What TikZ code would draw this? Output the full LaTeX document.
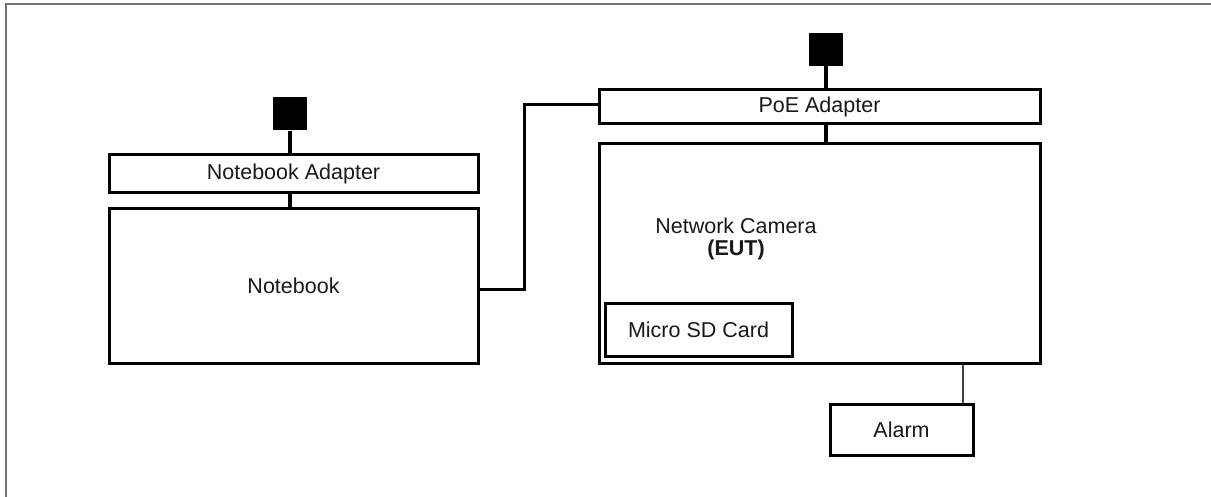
\documentclass[tikz,border=0pt]{standalone}
\usepackage{fontspec}
\setmainfont{Liberation Sans}
\begin{document}
\begin{tikzpicture}[x=1pt,y=-1pt,
  lbl/.style={font=\fontsize{21.5}{22}\selectfont,text=black!90},
  box/.style={lbl,draw=black,line width=3pt,fill=white,inner sep=0pt,rectangle},
  plug/.style={fill=black,draw=none,inner sep=0pt,rectangle},
  cord/.style={line width=4pt,black},
  link/.style={line width=3pt,black},
  thin/.style={line width=1.3pt,black!75},
  frameline/.style={line width=2pt,black!55}]
\useasboundingbox (0,0) rectangle (1211,497);
\draw[frameline] (6,497) -- (6,4) -- (1211,4);
% nodes
\node[plug,minimum width=34pt,minimum height=33pt] (plugA) at (290,114) {};
\node[box,minimum width=369pt,minimum height=38pt] (nbad) at (293.5,174) {Notebook Adapter};
\node[box,minimum width=369pt,minimum height=154pt] (nb) at (293.5,286) {Notebook};
\node[plug,minimum width=34pt,minimum height=33pt] (plugB) at (826,49.5) {};
\node[box,minimum width=441pt,minimum height=34pt] (poe) at (819.5,107) {PoE Adapter};
\node[box,minimum width=441pt,minimum height=219pt] (cam) at (819.5,253.5) {};
\node[lbl,align=center,inner sep=0pt] (camlabel) at (736,239) {Network Camera\\\textbf{(EUT)}};
\node[box,minimum width=187pt,minimum height=52pt] (sd) at (698.5,330) {Micro SD Card};
\node[box,minimum width=143pt,minimum height=51pt] (alarm) at (901.5,429.5) {Alarm};
\coordinate (alx) at (963,0);
\coordinate (bend) at (524,0);
\coordinate (nbout) at ([yshift=-4pt]nb.east);
\coordinate (poein) at ([yshift=2pt]poe.west);
% connectors
\draw[cord] (plugA.south) -- (plugA.south |- nbad.north);
\draw[cord] (plugA.south |- nbad.south) -- (plugA.south |- nb.north);
\draw[cord] (plugB.south) -- (plugB.south |- poe.north);
\draw[cord] (plugB.south |- poe.south) -- (plugB.south |- cam.north);
\draw[link] (nbout) -| (bend |- poein) -- (poein);
\draw[thin] (cam.south -| alx) -- (alarm.north -| alx);
\end{tikzpicture}
\end{document}
